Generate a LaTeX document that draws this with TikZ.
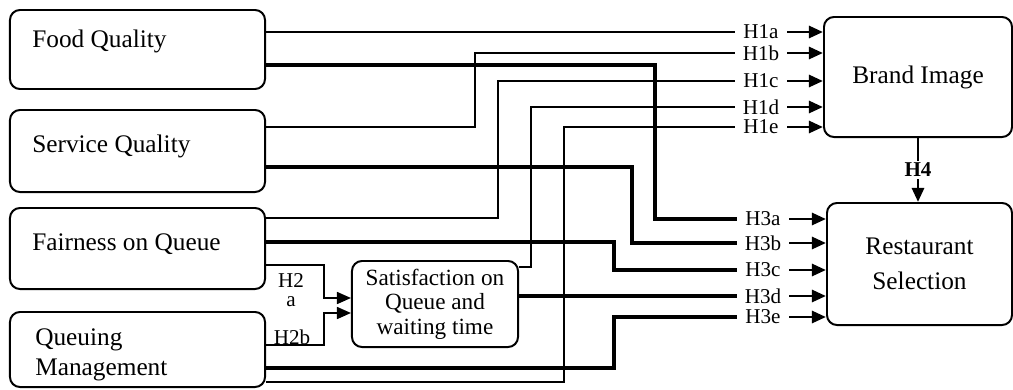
\documentclass[tikz,border=0pt]{standalone}
\usepackage{fontspec}
\setmainfont{Liberation Serif}
\usetikzlibrary{arrows.meta, calc}

\begin{document}
\begin{tikzpicture}[
  x=0.025cm, y=-0.025cm,
  box/.style={draw, line width=1.4pt, rounded corners=0.25cm, inner sep=0pt, align=center},
  boxtext/.style={align=left, inner sep=0pt, font=\fontsize{18}{21.3}\selectfont},
  hlab/.style={minimum width=1.3cm, inner sep=0pt, font=\fontsize{15}{16}\selectfont},
  link/.style={line width=1.3pt},
  heavy/.style={line width=2.6pt},
  tip/.style={-{Triangle[length=10pt, width=8.5pt]}},
  arrow/.style={line width=2.1pt, tip}
]
  \useasboundingbox (0,0) rectangle (1013,389);

  % predictors
  \node[box, minimum width=6.375cm, minimum height=1.975cm] (food) at (137.5,49.5) {};
  \node[box, minimum width=6.375cm, minimum height=2.05cm] (service) at (137.5,151) {};
  \node[box, minimum width=6.375cm, minimum height=2.025cm] (fair) at (137.5,248.5) {};
  \node[box, minimum width=6.375cm, minimum height=1.875cm] (queue) at (137.5,349.5) {};
  \node[boxtext, anchor=base west] (foodtxt) at (32,47) {Food Quality};
  \node[boxtext, anchor=base west] (servicetxt) at (32,152) {Service Quality};
  \node[boxtext, anchor=base west] (fairtxt) at (32,250) {Fairness on Queue};
  \node[boxtext, anchor=west] (queuetxt) at (35,355) {Queuing\\Management};

  % mediator and outcomes
  \node[box, minimum width=4.15cm, minimum height=2.15cm, font=\fontsize{16.5}{17.5}\selectfont] (sat) at (435,304) {Satisfaction on\\Queue and\\waiting time};
  \node[box, minimum width=4.7cm, minimum height=3cm, font=\fontsize{18}{21}\selectfont] (brand) at (918,77) {\raisebox{-3pt}{Brand Image}};
  \node[box, minimum width=4.625cm, minimum height=3.05cm, font=\fontsize{18}{25}\selectfont] (rest) at (919.5,264) {Restaurant\\Selection};

  % hypothesis labels
  \node[hlab] (h1a) at (761,32) {H1a};
  \node[hlab] (h1b) at (761,53) {H1b};
  \node[hlab] (h1c) at (761,81) {H1c};
  \node[hlab] (h1d) at (761,107) {H1d};
  \node[hlab] (h1e) at (761,127) {H1e};
  \node[hlab] (h3a) at (763,219) {H3a};
  \node[hlab] (h3b) at (763,243) {H3b};
  \node[hlab] (h3c) at (763,270) {H3c};
  \node[hlab] (h3d) at (763,296) {H3d};
  \node[hlab] (h3e) at (763,317) {H3e};
  \node[inner sep=0pt, align=center, font=\fontsize{15}{14}\selectfont] (h2a) at (291,290) {H2\\a};
  \node[inner sep=0pt, font=\fontsize{15}{16}\selectfont] (h2b) at (292,337) {H2b};

  % paths to the labels
  \draw[link] (food.east |- h1a) -- (h1a.west);
  \draw[heavy] ($(food.east)+(0,15.5)$) -- ++(389,0) |- (h3a.west);
  \draw[link] ($(service.east)+(0,-24)$) -- ++(209,0) |- (h1b.west);
  \draw[heavy] ($(service.east)+(0,16)$) -- ++(366,0) |- (h3b.west);
  \draw[link] ($(fair.east)+(0,-30.5)$) -- ++(232,0) |- (h1c.west);
  \draw[heavy] ($(fair.east)+(0,-6.5)$) -- ++(348,0) |- (h3c.west);
  \draw[link, tip] ($(fair.east)+(0,16.5)$) -- ++(58,0) |- ($(sat.west)+(0,-6)$);
  \draw[link, tip] ($(queue.east)+(0,-4.5)$) -- ++(58,0) |- ($(sat.west)+(0,9)$);
  \draw[heavy] ($(queue.east)+(0,18.5)$) -- ++(348,0) |- (h3e.west);
  \draw[link] ($(queue.east)+(0,32.5)$) -- ++(298,0) |- (h1e.west);
  \draw[link] ($(sat.east)+(0,-37)$) -- ++(12,0) |- (h1d.west);
  \draw[heavy] (sat.east |- h3d) -- (h3d.west);

  % arrows into the outcomes
  \foreach \h in {h1a,h1b,h1c,h1d,h1e}
    \draw[arrow] (\h.east) -- (brand.west |- \h);
  \foreach \h in {h3a,h3b,h3c,h3d,h3e}
    \draw[arrow] (\h.east) -- (rest.west |- \h);
  \draw[arrow] (brand.south) -- node[fill=white, inner sep=1.5pt, font=\bfseries\fontsize{15}{17}\selectfont] (h4) {H4} (brand.south |- rest.north);
\end{tikzpicture}
\end{document}
